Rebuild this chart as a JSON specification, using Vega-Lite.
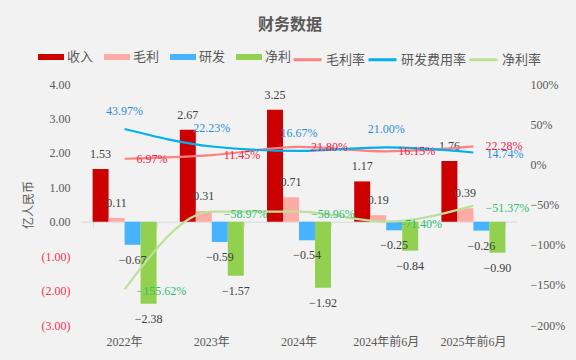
{
  "$schema": "https://vega.github.io/schema/vega-lite/v6.json",
  "width": 436,
  "height": 241,
  "autosize": {"type": "none"},
  "padding": {"left": 81, "top": 84, "right": 59, "bottom": 35},
  "background": "#F2F2F2",
  "config": {
    "view": {"stroke": null},
    "font": "Liberation Serif, Noto Sans CJK SC",
    "axis": {"grid": false, "labelFont": "Liberation Serif, Noto Sans CJK SC", "labelFontSize": 12, "labelColor": "#595959"},
    "legend": {"labelFont": "Noto Sans CJK SC", "labelFontSize": 13, "labelColor": "#595959"}
  },
  "title": {"text": "财务数据", "font": "Noto Sans CJK SC", "fontSize": 16, "fontWeight": "bold", "color": "#595959", "offset": 11, "dx": -9},
  "datasets": {
    "bars": [
      {"cat": "2022年", "series": "收入", "value": 1.53},
      {"cat": "2022年", "series": "毛利", "value": 0.11},
      {"cat": "2022年", "series": "研发", "value": -0.67},
      {"cat": "2022年", "series": "净利", "value": -2.38},
      {"cat": "2023年", "series": "收入", "value": 2.67},
      {"cat": "2023年", "series": "毛利", "value": 0.31},
      {"cat": "2023年", "series": "研发", "value": -0.59},
      {"cat": "2023年", "series": "净利", "value": -1.57},
      {"cat": "2024年", "series": "收入", "value": 3.25},
      {"cat": "2024年", "series": "毛利", "value": 0.71},
      {"cat": "2024年", "series": "研发", "value": -0.54},
      {"cat": "2024年", "series": "净利", "value": -1.92},
      {"cat": "2024年前6月", "series": "收入", "value": 1.17},
      {"cat": "2024年前6月", "series": "毛利", "value": 0.19},
      {"cat": "2024年前6月", "series": "研发", "value": -0.25},
      {"cat": "2024年前6月", "series": "净利", "value": -0.84},
      {"cat": "2025年前6月", "series": "收入", "value": 1.76},
      {"cat": "2025年前6月", "series": "毛利", "value": 0.39},
      {"cat": "2025年前6月", "series": "研发", "value": -0.26},
      {"cat": "2025年前6月", "series": "净利", "value": -0.90}
    ],
    "lines": [
      {"cat": "2022年", "series": "毛利率", "value": 0.0697},
      {"cat": "2023年", "series": "毛利率", "value": 0.1145},
      {"cat": "2024年", "series": "毛利率", "value": 0.2180},
      {"cat": "2024年前6月", "series": "毛利率", "value": 0.1615},
      {"cat": "2025年前6月", "series": "毛利率", "value": 0.2228},
      {"cat": "2022年", "series": "研发费用率", "value": 0.4397},
      {"cat": "2023年", "series": "研发费用率", "value": 0.2223},
      {"cat": "2024年", "series": "研发费用率", "value": 0.1667},
      {"cat": "2024年前6月", "series": "研发费用率", "value": 0.2100},
      {"cat": "2025年前6月", "series": "研发费用率", "value": 0.1474},
      {"cat": "2022年", "series": "净利率", "value": -1.5562},
      {"cat": "2023年", "series": "净利率", "value": -0.5897},
      {"cat": "2024年", "series": "净利率", "value": -0.5896},
      {"cat": "2024年前6月", "series": "净利率", "value": -0.7140},
      {"cat": "2025年前6月", "series": "净利率", "value": -0.5137}
    ]
  },
  "layer": [
    {
      "data": {"name": "bars"},
      "encoding": {
        "x": {"field": "cat", "type": "nominal",
          "scale": {"type": "band", "domain": ["2022年", "2023年", "2024年", "2024年前6月", "2025年前6月"], "paddingInner": 0.266, "paddingOuter": 0.133},
          "axis": {"orient": "bottom", "title": null, "domain": false, "ticks": false, "labelAngle": 0, "labelPadding": 11}},
        "xOffset": {"field": "series", "type": "nominal", "scale": {"domain": ["收入", "毛利", "研发", "净利"], "paddingInner": 0, "paddingOuter": 0}},
        "y": {"field": "value", "type": "quantitative",
          "scale": {"domain": [-3, 4], "nice": false, "zero": false},
          "axis": {"orient": "left", "values": [-3, -2, -1, 0, 1, 2, 3, 4], "domain": false, "ticks": false, "labelPadding": 11,
            "labelExpr": "datum.value < 0 ? '(' + format(-datum.value, '.2f') + ')' : format(datum.value, '.2f') + ' '",
            "labelColor": {"condition": {"test": "datum.value < 0", "value": "#EE3355"}, "value": "#595959"},
            "title": "亿人民币", "titleFont": "Noto Sans CJK SC", "titleFontWeight": "normal", "titleFontSize": 12, "titleColor": "#595959", "titlePadding": 6}}
      },
      "layer": [
        {"mark": {"type": "bar"},
          "encoding": {"fill": {"field": "series", "type": "nominal",
            "scale": {"domain": ["收入", "毛利", "研发", "净利"], "range": ["#CC0000", "#FFABA5", "#47B2FF", "#92D050"]},
            "legend": {"orient": "none", "legendX": -43, "legendY": -40, "direction": "horizontal", "title": null,
              "symbolType": "M-1,-0.23H1V0.23H-1Z", "symbolSize": 676, "symbolStrokeWidth": 0, "columnPadding": 10, "labelOffset": 3}}}},
        {"transform": [{"filter": "datum.value >= 0"}],
          "mark": {"type": "text", "baseline": "middle", "dy": -15, "fontSize": 12, "color": "#404040", "font": "Liberation Serif"},
          "encoding": {"text": {"field": "value", "type": "quantitative", "format": ".2f"}}},
        {"transform": [{"filter": "datum.value < 0"}],
          "mark": {"type": "text", "baseline": "middle", "dy": 15, "fontSize": 12, "color": "#404040", "font": "Liberation Serif"},
          "encoding": {"text": {"field": "value", "type": "quantitative", "format": ".2f"}}}
      ]
    },
    {
      "data": {"name": "lines"},
      "encoding": {
        "x": {"field": "cat", "type": "nominal",
          "scale": {"type": "band", "domain": ["2022年", "2023年", "2024年", "2024年前6月", "2025年前6月"], "paddingInner": 0.266, "paddingOuter": 0.133},
          "axis": {"orient": "bottom", "offset": -103.3, "labels": false, "title": null, "domain": true, "domainColor": "#D9D9D9", "ticks": true, "tickColor": "#D9D9D9", "tickSize": 5, "tickBand": "extent"}},
        "y": {"field": "value", "type": "quantitative",
          "scale": {"domain": [-2, 1], "nice": false, "zero": false},
          "axis": {"orient": "right", "values": [-2, -1.5, -1, -0.5, 0, 0.5, 1], "format": ".0%", "domain": false, "ticks": false, "labelPadding": 13, "title": null}}
      },
      "layer": [
        {"mark": {"type": "line", "interpolate": "monotone", "strokeWidth": 2.2},
          "encoding": {"stroke": {"field": "series", "type": "nominal",
            "scale": {"domain": ["毛利率", "研发费用率", "净利率"], "range": ["#FF8080", "#00B0F0", "#BDE09A"]},
            "legend": {"orient": "none", "legendX": 211, "legendY": -40, "direction": "horizontal", "title": null,
              "symbolType": "stroke", "symbolSize": 784, "symbolStrokeWidth": 3, "columnPadding": -4, "labelOffset": 3}}}},
        {"transform": [{"filter": "datum.series === '毛利率'"}],
          "mark": {"type": "text", "align": "left", "baseline": "middle", "dx": 12, "fontSize": 12, "color": "#E8254A", "font": "Liberation Serif"},
          "encoding": {"text": {"field": "value", "type": "quantitative", "format": ".2%"}}},
        {"transform": [{"filter": "datum.series === '净利率'"}],
          "mark": {"type": "text", "align": "left", "baseline": "middle", "dx": 12, "dy": 2, "fontSize": 12, "color": "#2FBF71", "font": "Liberation Serif"},
          "encoding": {"text": {"field": "value", "type": "quantitative", "format": ".2%"}}},
        {"transform": [{"filter": "datum.series === '研发费用率' && datum.cat !== '2025年前6月'"}],
          "mark": {"type": "text", "align": "center", "baseline": "middle", "dy": -18, "fontSize": 12, "color": "#2B8FD8", "font": "Liberation Serif"},
          "encoding": {"text": {"field": "value", "type": "quantitative", "format": ".2%"}}},
        {"transform": [{"filter": "datum.series === '研发费用率' && datum.cat === '2025年前6月'"}],
          "mark": {"type": "text", "align": "left", "baseline": "middle", "dx": 13, "dy": 2, "fontSize": 12, "color": "#2B8FD8", "font": "Liberation Serif"},
          "encoding": {"text": {"field": "value", "type": "quantitative", "format": ".2%"}}}
      ]
    }
  ],
  "resolve": {"scale": {"y": "independent"}, "axis": {"x": "independent"}}
}
